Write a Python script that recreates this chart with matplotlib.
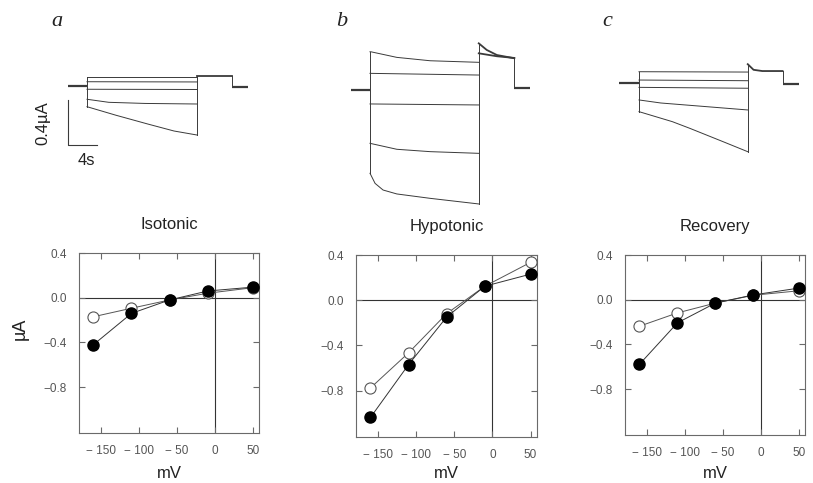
import matplotlib
matplotlib.use("Agg")
import matplotlib.pyplot as plt

plt.rcParams['font.family'] = ['Liberation Sans', 'DejaVu Sans']

# ---------------- data ----------------
VOLTAGES = [-160, -110, -60, -10, 50]
ISO_OPEN = [-0.17, -0.094, -0.02, 0.04, 0.09]
ISO_FILLED = [-0.42, -0.14, -0.02, 0.06, 0.095]
HYPO_OPEN = [-0.776, -0.465, -0.118, 0.124, 0.335]
HYPO_FILLED = [-1.037, -0.569, -0.148, 0.124, 0.231]
REC_OPEN = [-0.237, -0.118, -0.03, 0.04, 0.08]
REC_FILLED = [-0.578, -0.207, -0.03, 0.043, 0.104]
TITLES = ["Isotonic", "Hypotonic", "Recovery"]
LETTERS = ["a", "b", "c"]
XTICKS = [-150, -100, -50, 0, 50]
YTICKS = [0.4, 0.0, -0.4, -0.8]
XLABEL = "mV"
YLABEL = "\u00b5A"

# current traces (time in s, current in uA relative to holding)
A_HOLD_T = [-2.6, 0]
A_SWEEP_T = [[0, 15.2], [0, 15.2], [0, 15.2], [0, 3, 8, 15.2], [0, 4, 8.5, 12, 15.2]]
A_SWEEP_I = [[0.083, 0.083], [0.038, 0.036], [-0.029, -0.031],
             [-0.118, -0.145, -0.155, -0.16], [-0.184, -0.26, -0.34, -0.40, -0.436]]
A_TAIL_T = [[15.2, 20.0]]
A_TAIL_I = [[0.089, 0.089]]
A_OFF_T = [20.0, 20.0, 22.2]
A_OFF_I = [0.089, -0.009, -0.009]

B_HOLD_T = [-2.66, 0]
B_SWEEP_T = [[0, 0.1, 3.7, 8.3, 15.0], [0, 15.0], [0, 15.0], [0, 3.7, 8.3, 15.0],
             [0, 0.7, 1.8, 3.7, 8.3, 15.0]]
B_SWEEP_I = [[0.34, 0.34, 0.29, 0.26, 0.246], [0.148, 0.133], [-0.124, -0.133],
             [-0.474, -0.527, -0.548, -0.563], [-0.74, -0.83, -0.889, -0.924, -0.963, -1.013]]
B_TAIL_T = [[15.0, 16.1, 17.5, 19.9], [15.0, 17.5, 19.9]]
B_TAIL_I = [[0.415, 0.356, 0.311, 0.282], [0.326, 0.30, 0.285]]
B_OFF_T = [19.9, 19.9, 22.1]
B_OFF_I = [0.282, 0.018, 0.018]

C_HOLD_T = [-2.76, 0]
C_SWEEP_T = [[0, 15.0], [0, 15.0], [0, 15.0], [0, 3, 15.0], [0, 4.6, 7.0, 11.6, 15.0]]
C_SWEEP_I = [[0.103, 0.100], [0.029, 0.023], [-0.036, -0.044],
             [-0.148, -0.175, -0.237], [-0.252, -0.341, -0.40, -0.519, -0.608]]
C_TAIL_T = [[15.0, 15.8, 17.0, 19.8]]
C_TAIL_I = [[0.17, 0.12, 0.109, 0.109]]
C_OFF_T = [19.8, 19.8, 22.0]
C_OFF_I = [0.109, -0.006, -0.006]

SCALE_I = 0.4   # uA
SCALE_T = 4     # s

# ---------------- figure ----------------
W, H = 813, 483
fig = plt.figure(figsize=(W / 100, H / 100), dpi=100)


def px_axes(x0, x1, y0, y1):
    return fig.add_axes([x0 / W, 1 - y1 / H, (x1 - x0) / W, (y1 - y0) / H])


def ftext(x, y, s, **kw):
    fig.text(x / W, 1 - y / H, s, **kw)


PX_PER_S = 7.25
PX_PER_UA = 112.5
TRACE_COL = '#3a3a3a'

trace_sets = [
    (A_HOLD_T, A_SWEEP_T, A_SWEEP_I, A_TAIL_T, A_TAIL_I, A_OFF_T, A_OFF_I, (40, 270, 10, 200), 87, 86),
    (B_HOLD_T, B_SWEEP_T, B_SWEEP_I, B_TAIL_T, B_TAIL_I, B_OFF_T, B_OFF_I, (325, 560, 10, 215), 370, 90),
    (C_HOLD_T, C_SWEEP_T, C_SWEEP_I, C_TAIL_T, C_TAIL_I, C_OFF_T, C_OFF_I, (600, 812, 10, 200), 639, 83.3),
]

trace_axes = []
for (hold_t, sw_t, sw_i, tl_t, tl_i, off_t, off_i, box, t0px, i0py) in trace_sets:
    x0, x1, y0, y1 = box
    ax = px_axes(x0, x1, y0, y1)
    ax.set_xlim((x0 - t0px) / PX_PER_S, (x1 - t0px) / PX_PER_S)
    ax.set_ylim((i0py - y1) / PX_PER_UA, (i0py - y0) / PX_PER_UA)
    ax.axis('off')
    ax.plot(hold_t, [0, 0], color=TRACE_COL, lw=1.6, solid_capstyle='butt')
    t_end = sw_t[0][-1]
    ax.plot([0, 0], [sw_i[-1][0], sw_i[0][0]], color=TRACE_COL, lw=0.7)
    for t, i in zip(sw_t, sw_i):
        ax.plot(t, i, color=TRACE_COL, lw=0.7)
    ax.plot([t_end, t_end], [sw_i[-1][-1], max(tt[0] for tt in tl_i)], color=TRACE_COL, lw=0.7)
    for t, i in zip(tl_t, tl_i):
        ax.plot(t, i, color=TRACE_COL, lw=1.3)
    ax.plot(off_t[:2], off_i[:2], color=TRACE_COL, lw=0.7)
    ax.plot(off_t[1:], off_i[1:], color=TRACE_COL, lw=1.6, solid_capstyle='butt')
    trace_axes.append(ax)

# scale bar in panel a
axa = trace_axes[0]
sb_t = (68 - 87) / PX_PER_S
sb_top = (86 - 100) / PX_PER_UA
axa.plot([sb_t, sb_t, sb_t + SCALE_T], [sb_top, sb_top - SCALE_I, sb_top - SCALE_I],
         color=TRACE_COL, lw=0.8)
ftext(43, 123, f"{SCALE_I}\u00b5A", rotation=90, ha='center', va='center', fontsize=12, color='#222')
ftext(86, 161, f"{SCALE_T}s", ha='center', va='center', fontsize=12, color='#222')

# panel letters
for letter, (x, y) in zip(LETTERS, [(57, 21), (342, 21), (607, 21)]):
    ftext(x, y, letter, ha='center', va='center', fontsize=16, style='italic',
          family=['Liberation Serif', 'DejaVu Serif'], color='#222')

# ---------------- IV plots ----------------
iv_boxes = [(79, 259.3, 253, 433), (356, 536.7, 255, 437), (625, 805, 255, 435)]
iv_data = [(ISO_OPEN, ISO_FILLED), (HYPO_OPEN, HYPO_FILLED), (REC_OPEN, REC_FILLED)]
FRAME = '#6a6a6a'

for k, (box, (op, fi), title) in enumerate(zip(iv_boxes, iv_data, TITLES)):
    x0, x1, y0, y1 = box
    ax = px_axes(x0, x1, y0, y1)
    ax.set_xlim(-179, 58)
    ax.set_ylim(-1.21, 0.4)
    ax.axhline(0, color='#333', lw=0.8, zorder=1)
    ax.axvline(0, color='#333', lw=0.8, zorder=1)
    ax.plot(VOLTAGES, op, '-o', color='#555', lw=0.7, ms=8, mfc='white',
            mec='#555', mew=0.8, zorder=3)
    ax.plot(VOLTAGES, fi, '-o', color='#333', lw=0.7, ms=8, mfc='black',
            mec='black', zorder=4)
    ax.set_xticks(XTICKS)
    ax.set_xticklabels([f"\u2212 {abs(v)}" if v < 0 else f"{v}" for v in XTICKS])
    ax.set_yticks(YTICKS)
    ax.set_yticklabels([f"\u2212{abs(v):.1f}" if v < 0 else f"{v:.1f}" for v in YTICKS])
    ax.tick_params(direction='in', length=4, width=0.8, color=FRAME,
                   top=True, right=True, labelsize=8.5, labelcolor='#555', pad=9)
    for s in ax.spines.values():
        s.set_color(FRAME)
        s.set_linewidth(0.8)
    ax.set_title(title, fontsize=12, color='#222', pad=17)
    ftext((x0 + x1) / 2, 474, XLABEL, ha='center', va='center', fontsize=12, color='#222')

ftext(20, 329, YLABEL, rotation=90, ha='center', va='center', fontsize=13, color='#222')

fig.savefig("out.png", dpi=100)
